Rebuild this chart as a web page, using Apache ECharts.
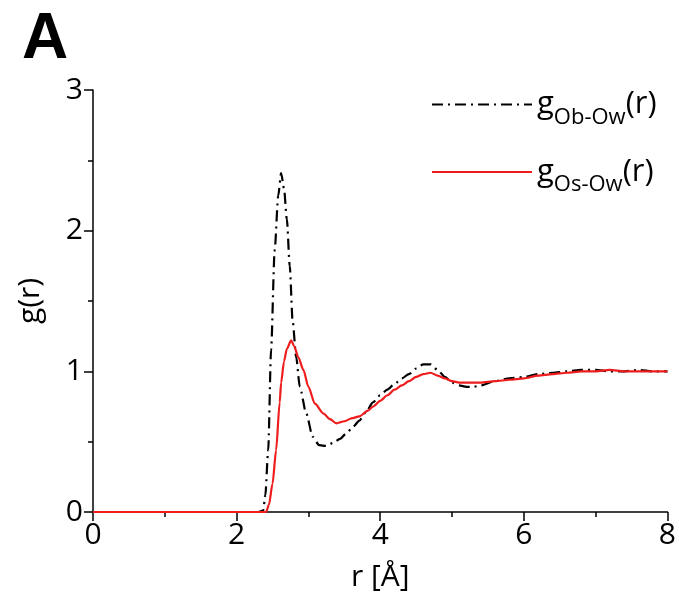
<!DOCTYPE html>
<html><head><meta charset="utf-8">
<script src="https://cdn.jsdelivr.net/npm/echarts@6/dist/echarts.min.js"></script>
<style>html,body{margin:0;padding:0;background:#fff}#c{width:679px;height:605px}</style>
</head><body><div id="c"></div>
<script>
var xTicks = [0, 2, 4, 6, 8];
var yTicks = [0, 1, 2, 3];
var seriesNames = ['Ob-Ow', 'Os-Ow'];

var rObOw = [0, 2.3, 2.37, 2.4, 2.44, 2.48, 2.53, 2.58, 2.62, 2.66, 2.7, 2.74, 2.78, 2.83, 2.88, 2.97, 3.06, 3.15, 3.25, 3.34, 3.44, 3.53, 3.62, 3.71, 3.8, 3.9, 4.0, 4.1, 4.2, 4.3, 4.4, 4.5, 4.6, 4.7, 4.8, 4.9, 5.0, 5.1, 5.2, 5.3, 5.4, 5.6, 5.8, 6.0, 6.2, 6.4, 6.6, 6.8, 7.0, 7.2, 7.4, 7.6, 7.8, 8.0];
var gObOw = [0, 0, 0.01, 0.12, 0.44, 1.15, 1.86, 2.25, 2.41, 2.3, 2.08, 1.75, 1.36, 1.1, 0.89, 0.7, 0.535, 0.475, 0.47, 0.49, 0.52, 0.56, 0.605, 0.65, 0.71, 0.78, 0.83, 0.87, 0.91, 0.95, 0.98, 1.02, 1.05, 1.05, 1.01, 0.96, 0.92, 0.9, 0.89, 0.89, 0.9, 0.93, 0.95, 0.96, 0.98, 0.99, 1.0, 1.01, 1.01, 1.0, 1.0, 1.01, 1.0, 1.0];

var rOsOw = [0, 2.41, 2.45, 2.5, 2.55, 2.6, 2.62, 2.66, 2.7, 2.76, 2.8, 2.86, 2.93, 3.0, 3.09, 3.21, 3.3, 3.39, 3.5, 3.6, 3.71, 3.83, 3.9, 4.0, 4.1, 4.2, 4.3, 4.4, 4.5, 4.6, 4.7, 4.8, 4.9, 5.0, 5.1, 5.2, 5.4, 5.6, 5.8, 6.0, 6.2, 6.4, 6.6, 6.8, 7.0, 7.2, 7.4, 7.6, 7.8, 8.0];
var gOsOw = [0, 0, 0.05, 0.2, 0.44, 0.78, 0.92, 1.07, 1.16, 1.22, 1.18, 1.1, 1.01, 0.89, 0.77, 0.7, 0.66, 0.63, 0.645, 0.665, 0.68, 0.72, 0.75, 0.79, 0.83, 0.87, 0.9, 0.93, 0.96, 0.98, 0.99, 0.97, 0.95, 0.93, 0.92, 0.92, 0.92, 0.93, 0.94, 0.95, 0.97, 0.98, 0.99, 1.0, 1.0, 1.01, 1.0, 1.0, 1.0, 1.0];

function pairs(xs, ys) { return xs.map(function (x, i) { return [x, ys[i]]; }); }

var FONT = '"Open Sans", "Noto Sans", sans-serif';
var chart = echarts.init(document.getElementById('c'), null, {renderer: 'canvas'});
chart.setOption({
  animation: false,
  backgroundColor: '#fff',
  grid: {left: 93, right: 11, top: 90, bottom: 93, containLabel: false},
  graphic: [{type: 'text', left: 22, top: 8, style: {text: 'A', font: 'bold 64px "Liberation Sans", Arial, sans-serif', fill: '#000'}}],
  legend: {
    orient: 'vertical', left: 426, top: 84, itemWidth: 100, itemHeight: 20, itemGap: 28,
    data: seriesNames,
    itemStyle: {opacity: 0},
    formatter: function (n) { return '{g|g}{s|' + n + '}{g|(r)}'; },
    textStyle: {
      fontFamily: FONT, color: '#000',
      rich: {
        g: {fontSize: 31, fontFamily: FONT, color: '#000', lineHeight: 40},
        s: {fontSize: 22, fontFamily: FONT, color: '#000', padding: [26, 0, 0, 0]}
      }
    }
  },
  xAxis: {
    type: 'value', min: 0, max: 8, interval: 2,
    name: 'r [Å]', nameLocation: 'middle', nameGap: 50,
    nameTextStyle: {fontFamily: FONT, fontSize: 30, color: '#000'},
    axisLine: {lineStyle: {color: '#000', width: 1.5}},
    axisTick: {show: true, inside: false, length: 9, lineStyle: {color: '#000', width: 1.5}},
    minorTick: {show: true, splitNumber: 2, length: 5, lineStyle: {color: '#000', width: 1.5}},
    axisLabel: {fontFamily: FONT, fontSize: 30, color: '#000', margin: 8,
      formatter: function (v) { return xTicks.indexOf(v) >= 0 ? String(v) : ''; }},
    splitLine: {show: false}
  },
  yAxis: {
    type: 'value', min: 0, max: 3, interval: 1,
    name: 'g(r)', nameLocation: 'middle', nameGap: 48,
    nameTextStyle: {fontFamily: FONT, fontSize: 30, color: '#000'},
    axisLine: {show: true, lineStyle: {color: '#000', width: 1.5}},
    axisTick: {show: true, inside: false, length: 9, lineStyle: {color: '#000', width: 1.5}},
    minorTick: {show: true, splitNumber: 2, length: 5, lineStyle: {color: '#000', width: 1.5}},
    axisLabel: {fontFamily: FONT, fontSize: 30, color: '#000', margin: 10,
      formatter: function (v) { return yTicks.indexOf(v) >= 0 ? String(v) : ''; }},
    splitLine: {show: false}
  },
  series: [
    {name: seriesNames[0], type: 'line', data: pairs(rObOw, gObOw), showSymbol: false, symbol: 'none',
     smooth: 0.25, smoothMonotone: 'x', lineStyle: {color: '#000', width: 2.2, type: [11, 5, 2, 5]}, itemStyle: {color: '#000'}},
    {name: seriesNames[1], type: 'line', data: pairs(rOsOw, gOsOw), showSymbol: false, symbol: 'none',
     smooth: 0.25, smoothMonotone: 'x', lineStyle: {color: '#ee1c1c', width: 2.2}, itemStyle: {color: '#ee1c1c'}}
  ]
});
</script></body></html>
